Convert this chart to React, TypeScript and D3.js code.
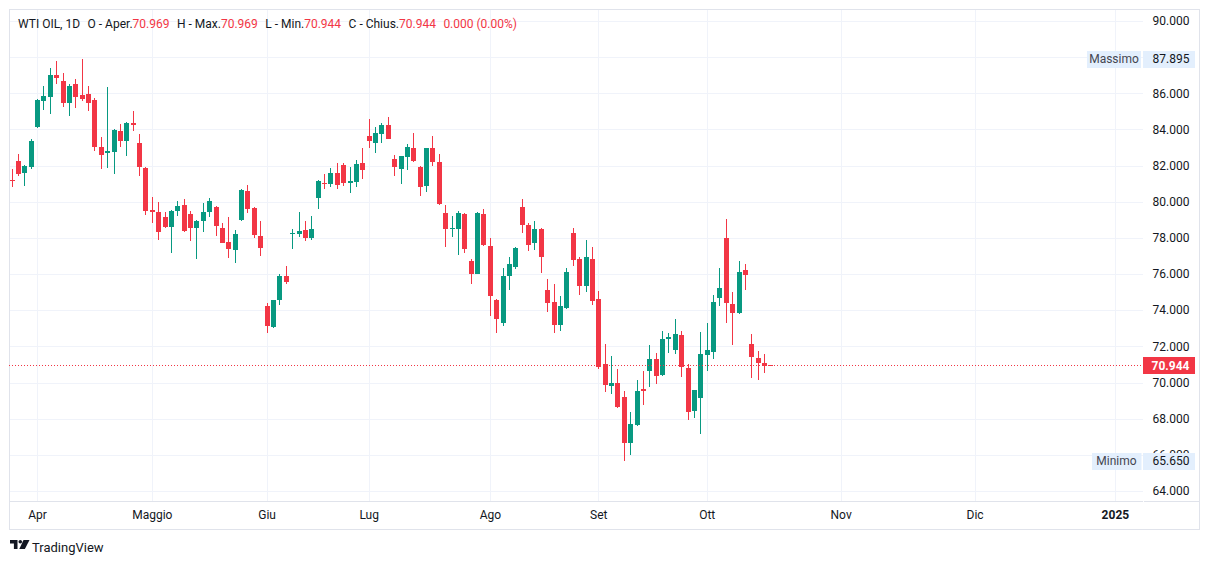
import React from "react";
import * as d3 from "d3";

const opens = [
  81.22, 82.27, 81.57, 81.9, 84.15, 85.55, 85.82, 87.02, 86.69, 85.49,
  86.52, 85.92, 85.97, 85.64, 83.04, 82.68, 82.73, 83.93, 83.34, 84.37,
  83.27, 81.89, 79.57, 79.46, 79.13, 78.59, 79.47, 79.84, 79.35, 78.54,
  78.92, 79.42, 79.73, 78.57, 77.75, 77.32, 78.98, 80.62, 79.66, 78.13,
  74.21, 73.07, 74.56, 75.87, 78.21, 78.21, 78.46, 77.98, 80.19, 81.06,
  80.97, 81.61, 82.05, 81.02, 81.08, 82.16, 83.65, 83.23, 83.73, 84.26,
  82.38, 81.79, 82.46, 82.99, 81.94, 80.86, 82.99, 82.22, 79.4, 78.48,
  78.48, 79.35, 76.75, 76.0, 79.35, 77.58, 74.54, 73.29, 75.89, 76.38,
  79.73, 78.74, 77.71, 78.52, 75.1, 74.43, 73.18, 74.12, 78.3, 76.81,
  75.33, 76.81, 74.62, 71.03, 69.82, 69.98, 69.21, 66.67, 67.66, 69.67,
  70.64, 71.29, 70.42, 72.41, 71.8, 72.61, 70.79, 68.43, 69.15, 71.53,
  71.69, 74.67, 77.97, 74.32, 73.84, 76.2, 72.12, 71.34, 71.07, 70.969,
];
const highs = [
  81.83, 82.64, 82.02, 83.49, 85.69, 86.41, 87.41, 87.79, 87.13, 86.5,
  86.8, 87.895, 86.41, 85.75, 83.6, 86.36, 84.04, 84.31, 84.4, 85.03,
  83.76, 81.94, 80.28, 80.01, 79.46, 79.53, 80.06, 80.17, 79.51, 79.01,
  79.95, 80.23, 79.79, 78.85, 79.13, 78.46, 80.69, 80.95, 79.73, 78.96,
  74.38, 74.56, 76.03, 76.44, 78.52, 79.46, 78.96, 79.24, 81.22, 81.55,
  81.89, 82.16, 82.16, 81.94, 82.33, 82.99, 84.59, 84.15, 84.37, 84.7,
  82.6, 82.55, 83.21, 83.82, 81.96, 83.0, 83.65, 82.66, 79.84, 79.24,
  79.51, 79.37, 76.81, 79.46, 79.62, 78.02, 74.6, 76.31, 76.97, 77.52,
  80.17, 78.8, 78.96, 78.55, 75.7, 75.43, 74.76, 76.31, 78.57, 76.97,
  77.86, 77.52, 75.04, 72.13, 71.47, 70.75, 69.54, 68.38, 70.15, 70.64,
  72.08, 71.62, 72.83, 72.72, 73.5, 72.83, 71.01, 69.6, 72.78, 73.27,
  74.82, 76.31, 79.07, 74.99, 76.7, 76.53, 72.67, 71.73, 71.56, 70.969,
];
const lows = [
  80.8, 81.45, 80.86, 81.79, 84.09, 85.05, 84.83, 86.54, 85.27, 84.77,
  85.16, 85.6, 85.0, 82.79, 81.79, 81.85, 81.52, 83.04, 82.55, 83.89,
  81.41, 79.25, 78.81, 77.87, 78.55, 77.16, 79.2, 78.35, 77.82, 76.83,
  78.32, 79.14, 78.13, 77.7, 76.88, 76.6, 78.92, 79.36, 77.98, 76.99,
  72.74, 73.02, 74.3, 75.45, 77.38, 78.04, 77.82, 77.87, 79.59, 80.69,
  80.8, 80.73, 80.85, 80.47, 80.8, 81.24, 82.95, 82.68, 83.23, 83.45,
  81.41, 80.97, 81.74, 82.2, 80.3, 80.52, 81.96, 79.8, 77.49, 78.04,
  77.05, 77.16, 75.45, 75.98, 77.55, 73.68, 72.74, 73.13, 75.1, 76.27,
  78.3, 77.27, 77.32, 76.05, 73.9, 72.74, 72.85, 74.05, 76.44, 74.84,
  75.0, 74.29, 70.75, 69.48, 69.37, 68.6, 65.65, 66.01, 67.61, 68.77,
  69.76, 69.93, 70.38, 71.64, 71.58, 70.31, 67.94, 68.05, 67.17, 70.64,
  71.31, 74.21, 73.27, 72.08, 73.8, 75.11, 70.26, 70.15, 70.53, 70.944,
];
const closes = [
  81.15, 81.52, 82.0, 83.38, 85.64, 85.86, 87.02, 86.87, 85.49, 86.41,
  85.77, 85.71, 85.49, 83.01, 82.57, 82.82, 83.98, 83.34, 84.37, 84.22,
  81.9, 79.47, 79.42, 78.32, 78.59, 79.51, 79.79, 78.37, 78.54, 78.96,
  79.46, 80.06, 78.65, 77.71, 77.38, 78.24, 80.63, 79.59, 78.15, 77.43,
  73.11, 74.54, 75.87, 75.56, 78.3, 78.41, 77.98, 78.52, 81.17, 80.98,
  81.61, 80.91, 81.02, 81.17, 82.11, 81.74, 83.34, 83.82, 84.26, 83.5,
  81.9, 82.55, 83.05, 82.24, 80.8, 82.99, 82.18, 79.86, 78.48, 78.57,
  79.4, 77.38, 76.0, 79.4, 77.6, 74.78, 73.51, 75.92, 76.53, 77.47,
  78.7, 77.6, 78.52, 76.94, 74.4, 73.18, 74.21, 76.14, 76.77, 75.33,
  76.97, 74.51, 70.86, 69.87, 69.98, 68.66, 66.67, 67.72, 69.52, 69.54,
  71.29, 70.37, 72.39, 72.52, 72.67, 70.86, 68.38, 69.56, 71.56, 71.78,
  74.43, 75.21, 74.4, 73.84, 76.09, 75.94, 71.42, 71.08, 70.94, 70.944,
];

const monthLabels = ["Apr", "Maggio", "Giu", "Lug", "Ago", "Set", "Ott", "Nov", "Dic", "2025"];
const monthIndex = [4, 22, 40, 56, 75, 92, 109, 130, 151, 173];
const priceTicks = [64, 66, 68, 70, 72, 74, 76, 78, 80, 82, 84, 86, 88, 90];
const lastPrice = 70.944;
const maxPrice = 87.895;
const minPrice = 65.65;
const headerParts = [
  { t: "WTI OIL, 1D", red: false, gap: false },
  { t: "O - Aper.", red: false, gap: true },
  { t: "70.969", red: true, gap: false },
  { t: "H - Max.", red: false, gap: true },
  { t: "70.969", red: true, gap: false },
  { t: "L - Min.", red: false, gap: true },
  { t: "70.944", red: true, gap: false },
  { t: "C - Chius.", red: false, gap: true },
  { t: "70.944", red: true, gap: false },
  { t: "0.000 (0.00%)", red: true, gap: true },
];

const UP = "#089981";
const DOWN = "#f23645";
const GRID = "#f0f3fa";
const BORDER = "#e0e3eb";
const TEXT = "#131722";
const FONT = "Roboto, 'Noto Sans', sans-serif";

export default function App() {
  const W = 1209;
  const H = 564;
  const plotL = 9;
  const plotR = 1143;
  const plotT = 9;
  const plotB = 501;
  const x = d3.scaleLinear().domain([0, 119]).range([11.5, 11.5 + 119 * 6.378]);
  const y = d3.scaleLinear().domain([64, 90]).range([491, 21]);
  const fmt = d3.format(".3f");

  const candles = opens.map((o, i) => {
    const c = closes[i];
    const h = highs[i];
    const l = lows[i];
    const cx = Math.round(x(i));
    const color = c >= o ? UP : DOWN;
    const top = Math.round(y(Math.max(o, c)));
    const bot = Math.round(y(Math.min(o, c)));
    return (
      <g key={i}>
        <rect x={cx} y={Math.round(y(h))} width={1} height={Math.max(1, Math.round(y(l)) - Math.round(y(h)))} fill={color} />
        <rect x={cx - 2} y={top} width={5} height={Math.max(1, bot - top)} fill={color} />
      </g>
    );
  });

  const lastY = Math.round(y(lastPrice)) + 0.5;
  const maxY = y(maxPrice);
  const minY = y(minPrice);

  return (
    <svg width={W} height={H} style={{ position: "absolute", left: 0, top: 0, background: "#fff" }} fontFamily={FONT}>
      <rect x={0} y={0} width={W} height={H} fill="#ffffff" />
      {/* grid */}
      {priceTicks.map((p) => (
        <line key={"h" + p} x1={plotL} x2={plotR} y1={Math.round(y(p)) + 0.5} y2={Math.round(y(p)) + 0.5} stroke={GRID} />
      ))}
      {monthIndex.map((m, i) => (
        <line key={"v" + i} x1={Math.round(x(m)) + 0.5} x2={Math.round(x(m)) + 0.5} y1={plotT} y2={plotB} stroke={GRID} />
      ))}
      {/* frame */}
      <rect x={9.5} y={9.5} width={1190} height={520} fill="none" stroke={BORDER} />
      <line x1={9} x2={1143} y1={501.5} y2={501.5} stroke={BORDER} />
      <line x1={1144} x2={1199} y1={501.5} y2={501.5} stroke={BORDER} />
      {/* candles */}
      {candles}
      {/* last price line */}
      <line x1={plotL} x2={plotR} y1={lastY} y2={lastY} stroke={DOWN} strokeDasharray="1 2" />
      {/* price axis labels */}
      {priceTicks.map((p) => (
        <text key={"t" + p} x={1189.5} y={y(p)} dy="0.35em" textAnchor="end" fontSize={12} fill={TEXT}>
          {fmt(p)}
        </text>
      ))}
      {/* max label */}
      <rect x={1087} y={Math.round(maxY) - 8} width={54} height={17} fill="#e3effd" />
      <text x={1114} y={maxY} dy="0.35em" textAnchor="middle" fontSize={12} fill="#434651">Massimo</text>
      <rect x={1143} y={Math.round(maxY) - 8} width={52} height={17} fill="#e3effd" />
      <text x={1189.5} y={maxY} dy="0.35em" textAnchor="end" fontSize={12} fill={TEXT}>{fmt(maxPrice)}</text>
      {/* min label */}
      <rect x={1092} y={Math.round(minY) - 8} width={49.5} height={17} fill="#e3effd" />
      <text x={1116.5} y={minY} dy="0.35em" textAnchor="middle" fontSize={12} fill="#434651">Minimo</text>
      <rect x={1143} y={Math.round(minY) - 8} width={52} height={17} fill="#e3effd" />
      <text x={1189.5} y={minY} dy="0.35em" textAnchor="end" fontSize={12} fill={TEXT}>{fmt(minPrice)}</text>
      {/* last price label */}
      <rect x={1143} y={Math.round(y(lastPrice)) - 8} width={52} height={17} fill={DOWN} />
      <text x={1189.5} y={y(lastPrice)} dy="0.35em" textAnchor="end" fontSize={12} fontWeight="bold" fill="#ffffff">{fmt(lastPrice)}</text>
      {/* time axis labels */}
      {monthLabels.map((m, i) => (
        <text key={"m" + i} x={x(monthIndex[i]) + 0.5} y={515} dy="0.35em" textAnchor="middle" fontSize={12} fill={TEXT} fontWeight={m === "2025" ? "bold" : "normal"}>
          {m}
        </text>
      ))}
      {/* header */}
      <text x={18} y={24} dy="0.35em" fontSize={12}>
        {headerParts.map((p, i) => (
          <tspan key={"hd" + i} dx={p.gap ? 7.5 : 0} fill={p.red ? DOWN : TEXT}>{p.t}</tspan>
        ))}
      </text>
      {/* TradingView logo */}
      <g fill={TEXT}>
        <path d="M10,540 h7.5 v9 h-3.6 v-5.6 h-3.9 z" />
        <circle cx={20.3} cy={541.8} r={1.8} />
        <path d="M23.5,540 h6 l-4.6,9 h-5.6 z" />
      </g>
      <text x={32} y={547} fontSize={13} fill={TEXT} dy="0.35em">TradingView</text>
    </svg>
  );
}
